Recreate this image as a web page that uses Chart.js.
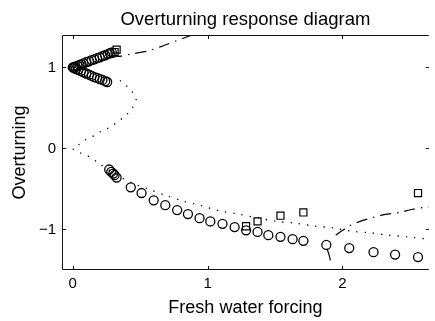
<!DOCTYPE html>
<html>
<head>
<meta charset="utf-8">
<script src="https://cdn.jsdelivr.net/npm/chart.js@4/dist/chart.umd.min.js"></script>
<style>
  html, body { margin: 0; padding: 0; background: #fff; }
  #wrap { width: 435px; height: 321px; }
</style>
</head>
<body>
<div id="wrap"><canvas id="myChart" width="435" height="321"></canvas></div>
<script>
// stable states (open circles)
const circleX = [0.00, 0.01, 0.02, 0.035, 0.05, 0.065, 0.08, 0.10, 0.12, 0.14, 0.16, 0.18, 0.20, 0.22, 0.24, 0.26, 0.275, 0.29,
  0.01, 0.025, 0.04, 0.06, 0.08, 0.10, 0.12, 0.14, 0.16, 0.18, 0.20, 0.22, 0.24, 0.255,
  0.27, 0.285, 0.30, 0.31, 0.325,
  0.43, 0.51, 0.60, 0.686, 0.774, 0.854, 0.94, 1.02, 1.11, 1.20, 1.285, 1.37, 1.45, 1.54, 1.63, 1.71, 1.88, 2.05, 2.23, 2.39, 2.56];
const circleY = [1.00, 1.005, 1.01, 1.02, 1.03, 1.04, 1.05, 1.065, 1.075, 1.09, 1.10, 1.115, 1.125, 1.14, 1.15, 1.165, 1.175, 1.185,
  0.99, 0.98, 0.97, 0.955, 0.94, 0.925, 0.91, 0.895, 0.88, 0.87, 0.855, 0.845, 0.83, 0.82,
  -0.26, -0.29, -0.31, -0.33, -0.36,
  -0.48, -0.55, -0.64, -0.70, -0.76, -0.81, -0.86, -0.90, -0.93, -0.97, -1.01, -1.03, -1.07, -1.09, -1.12, -1.14, -1.19, -1.23, -1.28, -1.31, -1.34];

// squares
const squareX = [0.31, 0.325, 1.285, 1.37, 1.54, 1.71, 2.56];
const squareY = [1.19, 1.22, -0.96, -0.90, -0.83, -0.79, -0.55];

// unstable branch (dotted)
const dotX = [0.35, 0.40, 0.44, 0.47, 0.46, 0.44, 0.39, 0.34, 0.285, 0.22, 0.16, 0.10, 0.05, 0.00,
  0.05, 0.13, 0.19, 0.30, 0.43, 0.56, 0.69, 0.82, 0.96, 1.09, 1.23, 1.38, 1.51, 1.64, 1.80, 1.93, 2.06, 2.20, 2.34, 2.48, 2.64];
const dotY = [0.84, 0.77, 0.70, 0.60, 0.55, 0.50, 0.40, 0.34, 0.27, 0.22, 0.16, 0.11, 0.05, 0.00,
  -0.05, -0.11, -0.18, -0.30, -0.42, -0.50, -0.58, -0.65, -0.71, -0.77, -0.81, -0.86, -0.90, -0.92, -0.96, -0.98, -1.02, -1.04, -1.07, -1.09, -1.12];

// dash-dot curves
const dashUpX = [0.285, 0.33, 0.36, 0.45, 0.55, 0.66, 0.77, 0.87, 0.95];
const dashUpY = [1.12, 1.135, 1.14, 1.17, 1.20, 1.26, 1.33, 1.39, 1.44];
const dashLowX = [1.95, 2.02, 2.08, 2.19, 2.30, 2.42, 2.52, 2.64];
const dashLowY = [-1.07, -0.99, -0.93, -0.87, -0.82, -0.79, -0.75, -0.72];

// short solid trace
const solidX = [1.886, 1.90, 1.91];
const solidY = [-1.24, -1.31, -1.38];

const xTicks = [0, 1, 2];
const yTicks = [-1, 0, 1];
const titleText = 'Overturning response diagram';

function pts(xs, ys) { return xs.map((x, i) => ({x: x, y: ys[i]})); }
function lbl(v) { return v < 0 ? '\u2212' + Math.abs(v) : String(v); }

const FONT = "'Liberation Sans', Arial, sans-serif";

// box + inward ticks + title centred over the plot area
const frame = {
  id: 'frame',
  afterDatasetsDraw(chart) {
    const ctx = chart.ctx, a = chart.chartArea;
    const xs = chart.scales.x, ys = chart.scales.y;
    ctx.save();
    ctx.strokeStyle = '#111';
    ctx.lineWidth = 1;
    ctx.beginPath();
    ctx.moveTo(a.right, a.top + 0.5);
    ctx.lineTo(a.left + 0.5, a.top + 0.5);
    ctx.lineTo(a.left + 0.5, a.bottom - 0.5);
    ctx.lineTo(a.right, a.bottom - 0.5);
    xTicks.forEach(v => {
      const p = Math.round(xs.getPixelForValue(v)) + 0.5;
      ctx.moveTo(p, a.bottom); ctx.lineTo(p, a.bottom - 4);
      ctx.moveTo(p, a.top); ctx.lineTo(p, a.top + 4);
    });
    yTicks.forEach(v => {
      const p = Math.round(ys.getPixelForValue(v)) + 0.5;
      ctx.moveTo(a.left, p); ctx.lineTo(a.left + 4, p);
      ctx.moveTo(a.right, p); ctx.lineTo(a.right - 3, p);
    });
    ctx.stroke();
    ctx.fillStyle = '#000';
    ctx.font = '18.5px ' + FONT;
    ctx.textAlign = 'center';
    ctx.textBaseline = 'alphabetic';
    ctx.fillText(titleText, (a.left + a.right) / 2, 25);
    ctx.restore();
  }
};

const config = {
  type: 'scatter',
  data: {
    datasets: [
      { data: pts(dotX, dotY), showLine: true, borderColor: '#000', borderWidth: 1.3, borderDash: [1.3, 7], pointRadius: 0, tension: 0.3 },
      { data: pts(dashUpX, dashUpY), showLine: true, borderColor: '#000', borderWidth: 1.2, borderDash: [11, 6, 1.5, 6], pointRadius: 0, tension: 0.2 },
      { data: pts(dashLowX, dashLowY), showLine: true, borderColor: '#000', borderWidth: 1.2, borderDash: [11, 6, 1.5, 6], pointRadius: 0, tension: 0.2 },
      { data: pts(solidX, solidY), showLine: true, borderColor: '#000', borderWidth: 1.2, pointRadius: 0, tension: 0.3 },
      { data: pts(circleX, circleY), pointStyle: 'circle', pointRadius: 4.5, borderColor: '#000', backgroundColor: 'rgba(0,0,0,0)', borderWidth: 1.3 },
      { data: pts(squareX, squareY), pointStyle: 'rect', pointRadius: 5, borderColor: '#000', backgroundColor: 'rgba(0,0,0,0)', borderWidth: 1.2 }
    ]
  },
  options: {
    responsive: false,
    animation: false,
    devicePixelRatio: 1,
    layout: { padding: { top: 35, right: 0, bottom: 0, left: 0 } },
    plugins: {
      legend: { display: false },
      tooltip: { enabled: false },
      title: { display: false }
    },
    scales: {
      x: {
        type: 'linear', min: -0.08, max: 2.64,
        grid: { display: false, drawTicks: false }, border: { display: false },
        afterBuildTicks: s => { s.ticks = xTicks.map(v => ({value: v})); },
        afterFit: s => { s.height = 51; },
        ticks: { color: '#000', font: { family: FONT, size: 15 }, padding: 5, maxRotation: 0, callback: lbl },
        title: { display: true, text: 'Fresh water forcing', color: '#000', font: { family: FONT, size: 18 }, padding: { top: 0, bottom: 2 } }
      },
      y: {
        type: 'linear', min: -1.5, max: 1.4,
        grid: { display: false, drawTicks: false }, border: { display: false },
        afterBuildTicks: s => { s.ticks = yTicks.map(v => ({value: v})); },
        afterFit: s => { s.width = 62; },
        ticks: { color: '#000', font: { family: FONT, size: 15 }, padding: 6, callback: lbl },
        title: { display: true, text: 'Overturning', color: '#000', font: { family: FONT, size: 18 }, padding: { top: 9, bottom: 0 } }
      }
    }
  },
  plugins: [frame]
};

const myChart = new Chart(document.getElementById('myChart'), config);
</script>
</body>
</html>
